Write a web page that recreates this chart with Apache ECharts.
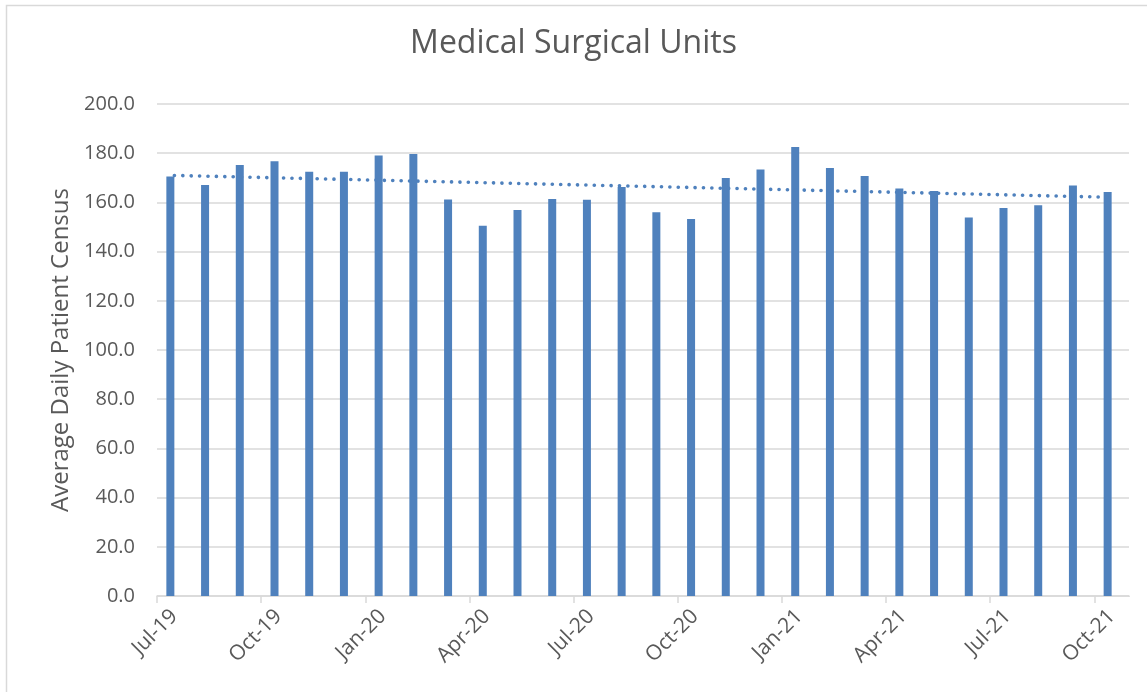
<!DOCTYPE html>
<html>
<head>
<meta charset="utf-8">
<title>Medical Surgical Units</title>
<script src="https://cdn.jsdelivr.net/npm/echarts@6/dist/echarts.min.js"></script>
<style>
  html, body { margin: 0; padding: 0; background: #fff; }
  #main { width: 1147px; height: 692px; }
</style>
</head>
<body>
<div id="main"></div>
<script>
var months = ['Jul-19', 'Aug-19', 'Sep-19', 'Oct-19', 'Nov-19', 'Dec-19',
  'Jan-20', 'Feb-20', 'Mar-20', 'Apr-20', 'May-20', 'Jun-20',
  'Jul-20', 'Aug-20', 'Sep-20', 'Oct-20', 'Nov-20', 'Dec-20',
  'Jan-21', 'Feb-21', 'Mar-21', 'Apr-21', 'May-21', 'Jun-21',
  'Jul-21', 'Aug-21', 'Sep-21', 'Oct-21'];

var census = [170.5, 167.1, 175.2, 176.7, 172.5, 172.5,
  179.1, 179.7, 161.2, 150.5, 156.9, 161.4,
  161.1, 166.3, 156.0, 153.3, 169.9, 173.4,
  182.5, 174.0, 170.7, 165.7, 164.6, 153.9,
  157.7, 158.8, 166.9, 164.2];

var yTicks = { min: 0, max: 200, interval: 20 };

// linear trendline (least squares), like Excel's
function linearTrend(data) {
  var n = data.length, sx = 0, sy = 0, sxy = 0, sxx = 0;
  for (var i = 0; i < n; i++) {
    sx += i; sy += data[i]; sxy += i * data[i]; sxx += i * i;
  }
  var b = (n * sxy - sx * sy) / (n * sxx - sx * sx);
  var a = (sy - b * sx) / n;
  var res = [];
  for (var j = 0; j < n; j++) res.push(+(a + b * j).toFixed(2));
  return res;
}

// empty second series keeps the bars left of slot centre as in the original
var blank = months.map(function () { return null; });

var chart = echarts.init(document.getElementById('main'));
var grey = '#595959';

var option = {
  backgroundColor: '#fff',
  animation: false,
  title: {
    text: 'Medical Surgical Units',
    left: 'center',
    top: 23,
    textStyle: { color: grey, fontFamily: 'Open Sans', fontSize: 32, fontWeight: 'normal' }
  },
  grid: { left: 157, right: 18, top: 104, bottom: 96 },
  xAxis: {
    type: 'category',
    data: months,
    boundaryGap: true,
    axisLine: { lineStyle: { color: '#d9d9d9', width: 1.5 } },
    axisTick: {
      show: true,
      interval: function (i) { return i % 3 === 0 && i < months.length; },
      length: 7,
      lineStyle: { color: '#d9d9d9', width: 1.5 }
    },
    axisLabel: {
      interval: 2,
      rotate: 45,
      margin: 17,
      color: grey,
      fontFamily: 'Open Sans',
      fontSize: 21
    }
  },
  yAxis: {
    type: 'value',
    min: yTicks.min,
    max: yTicks.max,
    interval: yTicks.interval,
    name: 'Average Daily Patient Census',
    nameLocation: 'middle',
    nameGap: 84,
    nameTextStyle: { color: grey, fontFamily: 'Open Sans', fontSize: 24 },
    axisLine: { show: false },
    axisTick: { show: false },
    splitLine: { lineStyle: { color: '#d9d9d9', width: 1.5 } },
    axisLabel: {
      margin: 22,
      color: grey,
      fontFamily: 'Open Sans',
      fontSize: 20,
      formatter: function (v) { return v.toFixed(1); }
    }
  },
  series: [
    {
      name: 'Census',
      type: 'bar',
      data: census,
      barWidth: 8,
      barGap: '0%',
      itemStyle: { color: '#4f81bd' },
      z: 2
    },
    {
      name: 'blank',
      type: 'bar',
      data: blank,
      barWidth: 8,
      itemStyle: { color: 'transparent' }
    },
    {
      name: 'Linear (Census)',
      type: 'line',
      data: linearTrend(census),
      symbol: 'none',
      lineStyle: { color: '#4f81bd', width: 3.6, type: [0.1, 8.3], cap: 'round' },
      z: 3
    }
  ],
  graphic: [{
    type: 'rect',
    shape: { x: 6.5, y: 5.5, width: 1300, height: 1000 },
    style: { fill: 'none', stroke: '#d9d9d9', lineWidth: 1.5 },
    silent: true,
    z: -1
  }, {
    // Excel has no closing tick at the right end of the axis
    type: 'rect',
    shape: { x: 1125, y: 597, width: 10, height: 9 },
    style: { fill: '#fff' },
    silent: true,
    z: 100
  }]
};

chart.setOption(option);
window.onresize = chart.resize;
</script>
</body>
</html>
